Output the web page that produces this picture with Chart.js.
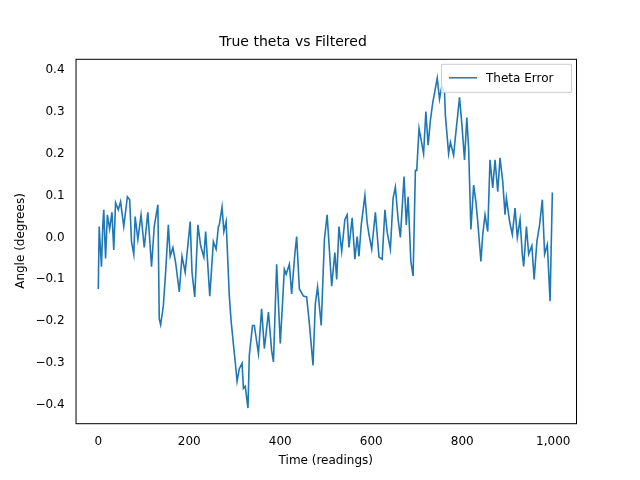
<!DOCTYPE html>
<html><head><meta charset="utf-8">
<script src="https://cdn.jsdelivr.net/npm/chart.js@4/dist/chart.umd.min.js"></script>
<style>html,body{margin:0;padding:0;background:#fff}#w{width:640px;height:480px}</style>
</head><body><div id="w"><canvas id="c" width="640" height="480"></canvas></div>
<script>
const readings = [0,2,7,10,12,16,20,25,30,34,38,44,49,56,64,69,73,78,81,87,94,101,109,117,123,131,134,137,143,148,154,158,164,170,178,184,191,202,206,212,219,225,232,236,245,253,259,264,266,272,276,281,288,292,298,301,305,310,316,319,323,329,332,339,343,352,359,365,374,381,385,392,400,409,413,420,425,432,436,442,451,458,464,472,477,482,490,497,503,513,520,524,529,535,542,547,551,558,564,569,573,578,586,591,595,601,609,617,624,630,635,642,648,653,659,664,672,677,681,687,692,697,700,705,715,720,725,730,735,740,745,750,755,761,763,770,774,781,785,794,799,805,810,814,819,825,830,834,841,845,850,856,861,867,872,878,883,889,894,897,904,910,916,921,927,932,935,941,946,953,958,964,970,976,981,987,993,998];
const thetaError = [-0.123,0.026,-0.07,0.03,0.066,-0.05,0.054,0.02,0.06,-0.03,0.083,0.066,0.085,0.026,0.097,0.09,-0.01,-0.04,0.05,-0.005,0.054,-0.024,0.06,-0.07,0.026,0.078,-0.194,-0.208,-0.163,-0.083,0.03,-0.045,-0.024,-0.06,-0.13,-0.045,-0.083,0.038,-0.083,-0.142,0.03,-0.02,-0.047,0.014,-0.14,-0.01,-0.028,0.026,0.03,0.073,0.014,0.038,-0.14,-0.2,-0.265,-0.297,-0.343,-0.313,-0.3,-0.36,-0.355,-0.407,-0.28,-0.21,-0.21,-0.277,-0.17,-0.265,-0.178,-0.27,-0.297,-0.064,-0.253,-0.076,-0.088,-0.064,-0.135,-0.04,0.002,-0.123,-0.14,-0.142,-0.206,-0.305,-0.159,-0.118,-0.21,-0.005,0.054,-0.116,-0.036,-0.1,0.026,-0.033,0.043,0.054,-0.024,0.047,-0.052,0.002,-0.045,0.03,0.1,0.035,0.007,-0.028,0.06,-0.047,-0.052,0.066,0.012,-0.028,0.094,0.12,0.043,0,0.145,0.03,0.097,-0.057,-0.092,0.16,0.16,0.26,0.2,0.3,0.22,0.28,0.32,0.35,0.38,0.33,0.36,0.345,0.29,0.2,0.227,0.196,0.24,0.334,0.272,0.185,0.286,0.213,0.019,0.125,0.085,0.038,-0.057,0.007,0.054,0.014,0.185,0.118,0.185,0.109,0.19,0.133,0.054,0.094,0.038,0.007,0.07,0,0.043,-0.04,-0.069,0.026,-0.04,-0.02,-0.1,-0.01,0.03,0.09,-0.04,-0.017,-0.152,0.107];
const xTicks = [0,200,400,600,800,1000];
const yTicks = [-0.4,-0.3,-0.2,-0.1,0.0,0.1,0.2,0.3,0.4];
const pts = readings.map((r,i)=>({x:r,y:thetaError[i]}));
const font = {family:'"DejaVu Sans"', size:12};
const legendPlugin = {id:'lg', afterDraw(ch){
  const c=ch.ctx, a=ch.chartArea; const w=130,h=28,x=a.right-w-5,y=a.top+5;
  c.save(); c.fillStyle='rgba(255,255,255,0.8)'; c.strokeStyle='#ccc'; c.lineWidth=1;
  c.beginPath(); c.rect(x+0.5,y+0.5,w,h); c.fill(); c.stroke();
  c.strokeStyle='#1f77b4'; c.lineWidth=1.5; c.beginPath(); c.moveTo(x+8,y+14); c.lineTo(x+36,y+14); c.stroke();
  c.fillStyle='#000'; c.font='12px "DejaVu Sans"'; c.textBaseline='middle'; c.fillText(ch.data.datasets[0].label,x+45,y+15);
  c.strokeStyle='#000'; c.lineWidth=1; c.strokeRect(a.left+0.5,a.top+0.5,a.right-a.left,a.bottom-a.top);
  c.restore();}};
new Chart(document.getElementById('c'),{type:'line',
 data:{datasets:[{label:'Theta Error',data:pts,borderColor:'#1f77b4',borderWidth:1.6,pointRadius:0,tension:0,fill:false}]},
 options:{responsive:false,animation:false,
  layout:{padding:{left:10,right:64,top:8,bottom:8}},
  plugins:{legend:{display:false},tooltip:{enabled:false},
   title:{display:true,text:'True theta vs Filtered',color:'#000',font:{family:'"DejaVu Sans"',size:14,weight:'normal'},padding:{top:26,bottom:8}}},
  scales:{
   x:{type:'linear',min:-50,max:1050,grid:{display:false,drawTicks:true},border:{display:false},
      afterBuildTicks:s=>{s.ticks=xTicks.map(v=>({value:v}));},
      ticks:{color:'#000',font,maxRotation:0},
      title:{display:true,text:'Time (readings)',color:'#000',font,padding:{top:2}}},
   y:{min:-0.443,max:0.426,grid:{display:false},border:{display:false},
      afterBuildTicks:s=>{s.ticks=yTicks.map(v=>({value:v}));},
      ticks:{color:'#000',font,callback:v=>(v<0?'\u2212':'')+Math.abs(v).toFixed(1)},
      title:{display:true,text:'Angle (degrees)',color:'#000',font}}}},
 plugins:[legendPlugin]});
</script></body></html>
